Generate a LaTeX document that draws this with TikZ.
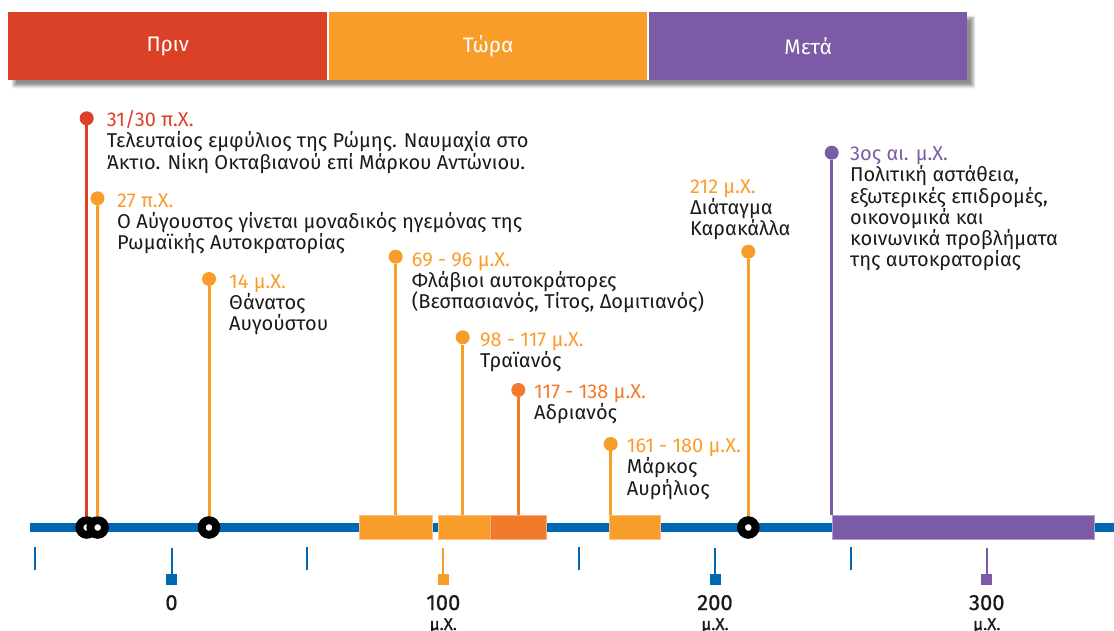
\documentclass[tikz,border=0pt]{standalone}
\usepackage{fontspec}
\setmainfont{Fira Sans}
\newfontfamily\axfont{Fira Sans}[FakeBold=0.7]
\usetikzlibrary{shadows.blur}
\definecolor{cRed}{HTML}{DB4127}
\definecolor{cOrange}{HTML}{F99D2A}
\definecolor{cDOrange}{HTML}{F37A2A}
\definecolor{cPurple}{HTML}{7B5BA6}
\definecolor{cBlue}{HTML}{0067B2}
\definecolor{cText}{HTML}{1A1A1A}
\begin{document}
\begin{tikzpicture}[x=1pt,y=-1pt,
  band/.style={anchor=north west, minimum height=68pt, inner sep=0pt, text=white, font=\fontsize{21}{24}\selectfont},
  dot/.style={circle, inner sep=0pt, minimum size=14pt, fill=#1},
  ring/.style={circle, draw=black, line width=7.9pt, fill=white, minimum size=14.6pt, inner sep=0pt},
  stem/.style={line width=3pt, draw=#1},
  pbox/.style={rectangle, inner sep=0pt, minimum height=24pt, fill=#1, draw=#1!60!white, line width=0.8pt},
  evt/.style={anchor=base west, align=left, inner sep=0pt, text=cText, font=\fontsize{20}{21.2}\selectfont},
  tickline/.style={line width=2pt, draw=#1},
  sq/.style={rectangle, inner sep=0pt, minimum size=11pt, fill=#1},
  axlab/.style={anchor=base, inner sep=0pt, text=cText, font=\axfont\fontsize{22}{24}\selectfont},
  axsub/.style={anchor=base, inner sep=0pt, text=cText, font=\axfont\fontsize{17}{18}\selectfont}
]
\useasboundingbox (0,0) rectangle (1114,631);

% top bar
\path[fill=white, blur shadow={shadow xshift=6pt, shadow yshift=-6pt, shadow blur radius=3pt, shadow opacity=45}] (8,12) rectangle (967,80);
\node[band, fill=cRed, minimum width=319pt] (pre) at (8,12) {Πριν};
\node[band, fill=cOrange, minimum width=318pt] (now) at (329,12) {Τώρα};
\node[band, fill=cPurple, minimum width=318pt] (post) at (649,12) {Μετά};

% axis
\coordinate (axL) at (30,527.5);
\coordinate (axR) at (1114,527.5);
\draw[cBlue, line width=8.4pt] (axL) -- (axR);

% minor ticks
\foreach \x in {35,307,579,851} \draw[tickline=cBlue] (\x,547) -- (\x,570);

% major ticks
\node[sq=cBlue] (s0) at (171.5,579.5) {};
\node[sq=cOrange] (s100) at (443.3,579.5) {};
\node[sq=cBlue] (s200) at (715,579.5) {};
\node[sq=cPurple] (s300) at (986.8,579.5) {};
\draw[tickline=cBlue] (s0.center) -- ++(0,-32);
\draw[tickline=cOrange] (s100.center) -- ++(0,-32);
\draw[tickline=cBlue] (s200.center) -- ++(0,-32);
\draw[tickline=cPurple] (s300.center) -- ++(0,-32);
\node[axlab] (l0) at (171.5,610) {0};
\node[axlab] (l100) at (443.3,610) {100};
\node[axlab] (l200) at (715,610) {200};
\node[axlab] (l300) at (986.8,610) {300};
\node[axsub] (m100) at (443.3,630) {μ.Χ.};
\node[axsub] (m200) at (715,630) {μ.Χ.};
\node[axsub] (m300) at (986.8,630) {μ.Χ.};

% period boxes
\node[pbox=cOrange, minimum width=73pt] (b4) at (395.5,527.5) {};
\node[pbox=cOrange, minimum width=51.7pt] (b5) at (464.2,527.5) {};
\node[pbox=cDOrange, minimum width=56.7pt] (b6) at (518.3,527.5) {};
\node[pbox=cOrange, minimum width=51.4pt] (b7) at (635.1,527.5) {};
\node[pbox=cPurple, minimum width=261.5pt] (b9) at (963.4,527.5) {};

% dots
\node[dot=cRed] (d1) at (86.7,118.3) {};
\node[dot=cOrange] (d2) at (97.5,198.3) {};
\node[dot=cOrange] (d3) at (209,279) {};
\node[dot=cOrange] (d4) at (395.7,256.7) {};
\node[dot=cOrange] (d5) at (462.7,337.3) {};
\node[dot=cDOrange] (d6) at (518.3,390) {};
\node[dot=cOrange] (d7) at (610.7,444) {};
\node[dot=cOrange] (d8) at (748.3,251.7) {};
\node[dot=cPurple] (d9) at (831.7,152.7) {};

% rings
\node[ring] (r1) at (86.7,527.5) {};
\node[ring] (r2) at (97.7,527.5) {};
\node[ring] (r3) at (209,527.5) {};
\node[ring] (r8) at (748.3,527.5) {};

% stems
\draw[stem=cRed] (d1) -- (r1);
\draw[stem=cOrange] (d2) -- (r2);
\draw[stem=cOrange] (d3) -- (r3);
\draw[stem=cOrange] (d4) -- (d4 |- b4.north);
\draw[stem=cOrange] (d5) -- (d5 |- b5.north);
\draw[stem=cDOrange] (d6) -- (d6 |- b6.north);
\draw[stem=cOrange] (d7) -- (d7 |- b7.north);
\draw[stem=cOrange] (d8) -- (r8);
\draw[stem=cPurple] (d9) -- (d9 |- b9.north);

% texts (anchored at the baseline of their last line)
\node[evt] (t1) at (106.7,169.1) {\textcolor{cRed}{31/30 π.Χ.}\\Τελευταίος εμφύλιος της Ρώμης. Ναυμαχία στο\\Άκτιο. Νίκη Οκταβιανού επί Μάρκου Αντώνιου.};
\node[evt] (t2) at (117,249.7) {\textcolor{cOrange}{27 π.Χ.}\\Ο Αύγουστος γίνεται μοναδικός ηγεμόνας της\\Ρωμαϊκής Αυτοκρατορίας};
\node[evt] (t3) at (229,330.4) {\textcolor{cOrange}{14 μ.Χ.}\\Θάνατος\\Αυγούστου};
\node[evt] (t4) at (411.7,308.4) {\textcolor{cOrange}{69 - 96 μ.Χ.}\\Φλάβιοι αυτοκράτορες\\(Βεσπασιανός, Τίτος, Δομιτιανός)};
\node[evt] (t5) at (480,367.2) {\textcolor{cOrange}{98 - 117 μ.Χ.}\\Τραϊανός};
\node[evt] (t6) at (534,419.5) {\textcolor{cDOrange}{117 - 138 μ.Χ.}\\Αδριανός};
\node[evt] (t7) at (626.7,495.1) {\textcolor{cOrange}{161 - 180 μ.Χ.}\\Μάρκος\\Αυρήλιος};
\node[evt] (t8) at (690,235.7) {\textcolor{cOrange}{212 μ.Χ.}\\Διάταγμα\\Καρακάλλα};
\node[evt] (t9) at (850,266.7) {\textcolor{cPurple}{3ος αι. μ.Χ.}\\Πολιτική αστάθεια,\\εξωτερικές επιδρομές,\\οικονομικά και\\κοινωνικά προβλήματα\\της αυτοκρατορίας};
\end{tikzpicture}
\end{document}
